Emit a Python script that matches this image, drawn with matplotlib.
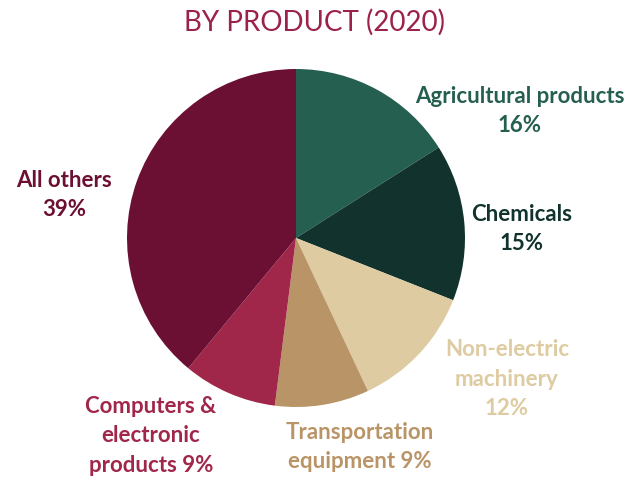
import matplotlib.pyplot as plt

labels = ["Agricultural products\n16%", "Chemicals\n15%", "Non-electric\nmachinery\n12%",
          "Transportation\nequipment 9%", "Computers &\nelectronic\nproducts 9%", "All others\n39%"]
shares = [16, 15, 12, 9, 9, 39]
colors = ["#255f50", "#12332d", "#dfcba1", "#b99466", "#a0264a", "#6b0f33"]
# label centres in pixels (x, y from top)
label_pos = [(520, 111), (522, 229), (507, 379), (360, 447), (151, 436), (64, 195)]

plt.rcParams['font.family'] = ['Lato', 'DejaVu Sans']

fig = plt.figure(figsize=(6.42, 4.78), dpi=100)
cx, cy, r = 296, 238, 169
ax = fig.add_axes([(cx - r) / 642, (478 - cy - r) / 478, 2 * r / 642, 2 * r / 478])
ax.pie(shares, colors=colors, startangle=90, counterclock=False, radius=1,
       wedgeprops=dict(linewidth=0))
ax.set_xlim(-1, 1)
ax.set_ylim(-1, 1)
ax.set_aspect('equal')
ax.axis('off')

for lab, (px, py), c in zip(labels, label_pos, colors):
    ax.text((px - cx) / r, (cy - py) / r, lab, ha='center', va='center', color=c,
            fontsize=16, fontweight='bold', linespacing=1.5, clip_on=False)

fig.text(314 / 642, 1 - 22 / 478, "BY PRODUCT (2020)", ha='center', va='center',
         color="#9b2248", fontsize=20)

fig.savefig("out.png", dpi=100)
